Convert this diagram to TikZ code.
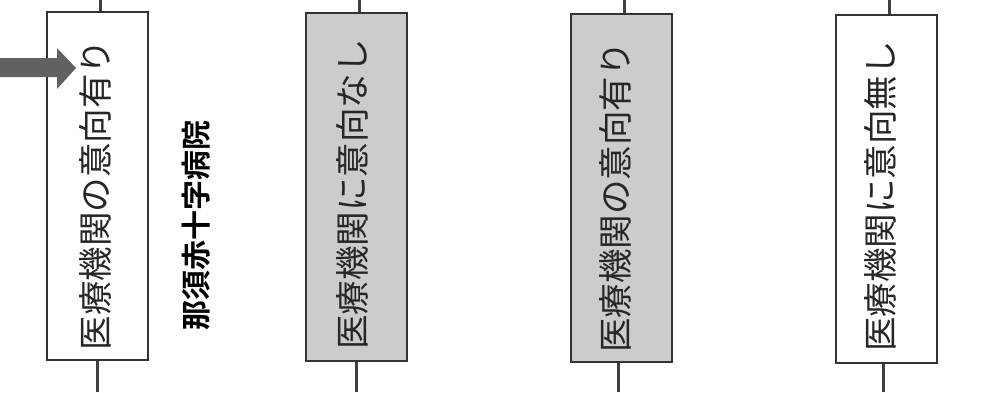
\documentclass[tikz,border=0pt]{standalone}
\usepackage{fontspec}
\newfontfamily\jp{Noto Sans CJK JP}
\newfontfamily\jpb{Noto Sans CJK JP Bold}
\begin{document}
\begin{tikzpicture}[x=1pt,y=-1pt,
  box/.style={draw=black!80, line width=2pt, minimum width=101pt, minimum height=348pt, inner sep=0pt},
  label/.style={rotate=90, font=\jp\fontsize{34.5}{34.5}\selectfont, inner sep=0pt, text=black!85},
  conn/.style={draw=black!75, line width=3pt}]
\useasboundingbox (0,0) rectangle (1001,392);
% boxes
\node[box, fill=white] (b1) at (97.5,186) {};
\node[box, fill=black!20] (b2) at (356.5,187) {};
\node[box, fill=black!20] (b3) at (621.5,188) {};
\node[box, fill=white] (b4) at (886,188.5) {};
% labels
\node[label] (l1) at (95,195) {医療機関の意向有り};
\node[label] (l2) at (352,194.5) {医療機関に意向なし};
\node[label] (l3) at (615,197.5) {医療機関の意向有り};
\node[label] (l4) at (880,196.5) {医療機関に意向無し};
\node[rotate=90, font=\jpb\fontsize{30}{30}\selectfont, inner sep=0pt] (h) at (196,225) {那須赤十字病院};
% connectors
\coordinate (t1) at (100,0);   \coordinate (u1) at (97,392);
\coordinate (t2) at (359,0);   \coordinate (u2) at (356,392);
\coordinate (t3) at (624,0);   \coordinate (u3) at (618,392);
\coordinate (t4) at (889,0);   \coordinate (u4) at (883,392);
\foreach \i in {1,2,3,4}{
  \draw[conn] (t\i) -- (t\i |- b\i.north);
  \draw[conn] (u\i) -- (u\i |- b\i.south);
}
% arrow
\coordinate (a0) at (0,67.5);
\coordinate (a1) at (76,68);
\fill[black!62] (a0) ++(0,-9.5) -- (57,58) -- (57,48) -- (a1) -- (57,89) -- (57,77) -- (0,77) -- cycle;
\end{tikzpicture}
\end{document}
